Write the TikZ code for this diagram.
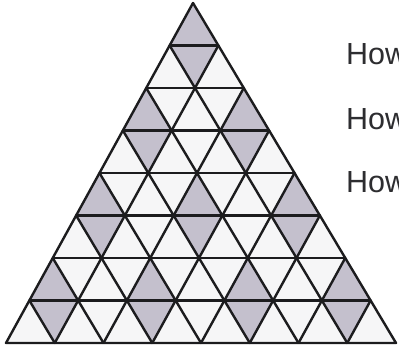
\documentclass[tikz,border=0pt]{standalone}
\usepackage{fontspec}
\setmainfont{Liberation Sans}
\definecolor{shade}{RGB}{196,192,205}
\definecolor{paleface}{RGB}{246,246,247}
\definecolor{inkline}{RGB}{28,28,30}
\definecolor{inktext}{RGB}{45,45,48}
\tikzset{
  gridline/.style={draw=inkline, line width=2.4pt, line cap=round, line join=round},
  diamondfill/.style={fill=shade},
  question/.style={anchor=base west, inner sep=0pt, text=inktext, font=\fontsize{30.5}{36}\selectfont}
}
\begin{document}
\begin{tikzpicture}[x=1pt,y=1pt]
\clip (0,0) rectangle (399,350);
\fill[white] (0,0) rectangle (399,350);
\begin{scope}[shift={(193pt,347pt)}, x={(-23.375pt,-42.5pt)}, y={(25.375pt,-42.5pt)}]
  \coordinate (apex) at (0,0);
  \coordinate (bl) at (8,0);
  \coordinate (br) at (0,8);
  \fill[paleface] (apex) -- (bl) -- (br) -- cycle;
  % shaded diamonds (up triangle + down triangle below it)
  \foreach \a/\b in {0/0, 2/0, 0/2, 4/0, 2/2, 0/4, 6/0, 4/2, 2/4, 0/6}{
    \fill[diamondfill] (\a,\b) -- (\a+1,\b) -- (\a+1,\b+1) -- (\a,\b+1) -- cycle;
  }
  % horizontal lines
  \foreach \r in {1,...,7}{
    \draw[gridline] (\r,0) -- (0,\r);
  }
  % lines parallel to the right side
  \foreach \a in {1,...,7}{
    \draw[gridline] (\a,0) -- (\a,8-\a);
  }
  % lines parallel to the left side
  \foreach \b in {1,...,7}{
    \draw[gridline] (0,\b) -- (8-\b,\b);
  }
  \draw[gridline] (apex) -- (bl) -- (br) -- cycle;
\end{scope}
\node[question] (q1) at (346,285) {How};
\node[question] (q2) at (346,220) {How};
\node[question] (q3) at (346,157) {How};
\end{tikzpicture}
\end{document}
